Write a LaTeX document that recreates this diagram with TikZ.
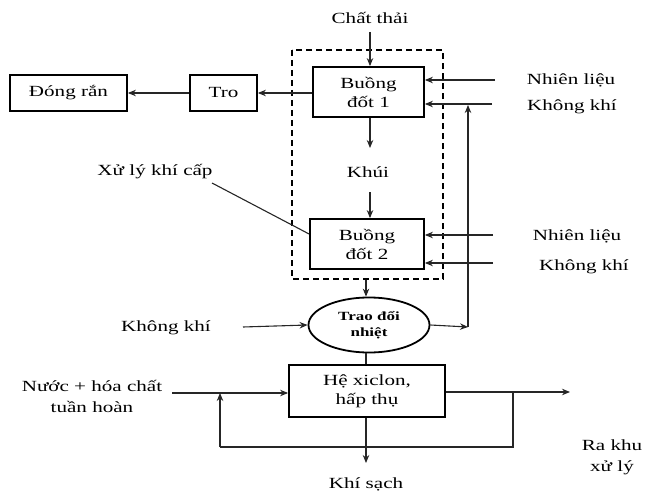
\documentclass[tikz,border=0pt]{standalone}
\usepackage{fontspec}
\setmainfont{Liberation Serif}[FakeStretch=1.36]
\usetikzlibrary{arrows.meta,shapes.geometric}
\begin{document}
\begin{tikzpicture}[x=1pt,y=-1pt,
  txt/.style={font=\fontsize{15.5}{21}\selectfont, inner sep=0pt, align=center},
  box/.style={draw, line width=1.8pt, inner sep=0pt, align=center, font=\fontsize{15.5}{19}\selectfont},
  conn/.style={line width=1.1pt, draw=black!85},
  arr/.style={conn, -{Stealth[length=8pt,width=6.5pt]}},
]
\useasboundingbox (0,0) rectangle (646,495);
% nodes
\node[txt] (chat) at (370,18) {Chất thải};
\node[box, minimum width=111pt, minimum height=50pt] (b1) at (368.5,92) {Buồng\\đốt 1};
\node[box, minimum width=67pt, minimum height=36pt] (tro) at (223.5,93) {Tro};
\node[box, minimum width=117pt, minimum height=36pt] (dong) at (68.5,93) {Đóng rắn};
\node[txt] (khui) at (368,172) {Khúi};
\node[box, minimum width=114pt, minimum height=50pt] (b2) at (367,244) {Buồng\\đốt 2};
\node[txt] (nl1) at (571,80) {Nhiên liệu};
\node[txt] (kk1) at (572,107) {Không khí};
\node[txt] (nl2) at (577,236) {Nhiên liệu};
\node[txt] (kk2) at (584,267) {Không khí};
\node[txt] (xl) at (155,172) {Xử lý khí cấp};
\node[draw, ellipse, line width=1.8pt, minimum width=121pt, minimum height=55pt, inner sep=0pt, align=center,
      font=\fontsize{12.5}{16}\selectfont\bfseries] (td) at (369,325) {Trao đổi\\nhiệt};
\node[txt] (kk3) at (166,328) {Không khí};
\node[box, minimum width=156pt, minimum height=52pt] (hx) at (367,391) {Hệ xiclon,\\hấp thụ};
\node[txt] (nuoc) at (92,396) {Nước + hóa chất\\tuần hoàn};
\node[txt] (ks) at (366,484) {Khí sạch};
\node[txt] (ra) at (612,457) {Ra khu\\xử lý};
% dashed enclosure
\draw[line width=1.4pt, dash pattern=on 6pt off 4pt] (292,50) rectangle (443,279);
% coordinates
\coordinate (chatE) at (370,32);
\coordinate (nl1s) at (495,80);
\coordinate (kk1s) at (492,104);
\coordinate (nl2s) at (493,235);
\coordinate (kk2s) at (493,263);
\coordinate (k1) at (370,148);
\coordinate (k2) at (370,192);
\coordinate (xls) at (212,183);
\coordinate (dashB) at (366,280);
\coordinate (kk3s) at (243,327);
\coordinate (corner) at (468,327);
\coordinate (upT) at (468,105);
\coordinate (nuocs) at (172,393);
\coordinate (fb1) at (513,392);
\coordinate (fb2) at (513,447);
\coordinate (fb3) at (220,447);
\coordinate (fb4) at (220,393);
\coordinate (outE) at (570,392);
\coordinate (ksE) at (366,463);
% connectors
\draw[arr] (chatE) -- (b1.north -| chatE);
\draw[arr] (b1.west |- tro.east) -- (tro.east);
\draw[arr] (tro.west) -- (dong.east);
\draw[arr] (nl1s) -- (nl1s -| b1.east);
\draw[arr] (kk1s) -- (kk1s -| b1.east);
\draw[arr] (b1.south -| k1) -- (k1);
\draw[arr] (k2) -- (b2.north -| k2);
\draw[arr] (nl2s) -- (nl2s -| b2.east);
\draw[arr] (kk2s) -- (kk2s -| b2.east);
\draw[conn] (xls) -- (b2.west |- 0,234);
\draw[arr] (dashB) -- (td.north -| dashB);
\draw[arr] (kk3s) -- (td.west);
\draw[arr] (td.east) -- (corner);
\draw[arr] (corner) -- (upT);
\draw[conn] (td.south -| dashB) -- (hx.north -| dashB);
\draw[arr] (nuocs) -- (nuocs -| hx.west);
\draw[conn] (fb1) -- (fb2) -- (fb3);
\draw[arr] (fb3) -- (fb4);
\draw[arr] (hx.east |- outE) -- (outE);
\draw[arr] (hx.south -| ksE) -- (ksE);
\end{tikzpicture}
\end{document}
